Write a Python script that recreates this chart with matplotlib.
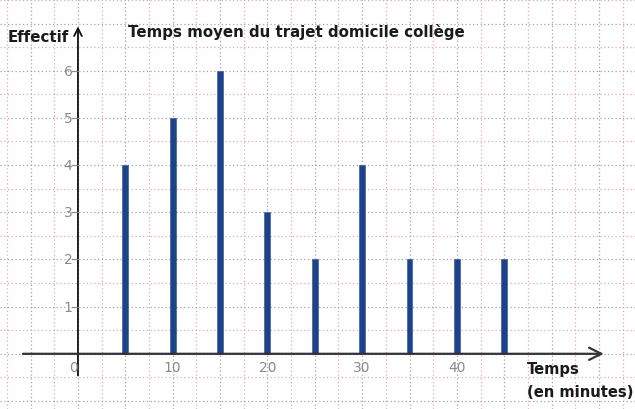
import matplotlib
matplotlib.use("Agg")
import matplotlib.pyplot as plt
import numpy as np

times = [5, 10, 15, 20, 25, 30, 35, 40, 45]
counts = [4, 5, 6, 3, 2, 4, 2, 2, 2]
x_tick_labels = ["0", "10", "20", "30", "40"]
x_tick_pos = [0, 10, 20, 30, 40]
y_ticks = [1, 2, 3, 4, 5, 6]
title = "Temps moyen du trajet domicile collège"

fig = plt.figure(figsize=(6.35, 4.10), dpi=100)
ax = fig.add_axes([0, 0, 1, 1])
xmin, xmax = -8.23, 58.8
ymin, ymax = -1.17, 7.52
ax.set_xlim(xmin, xmax)
ax.set_ylim(ymin, ymax)
ax.axis("off")

# grid
for i, gx in enumerate(np.arange(-7.5, 60, 2.5)):
    col = "#a8a0a8" if i % 2 else "#d8a8cc"
    ax.axvline(gx, color=col, ls=(0, (1, 2)), lw=0.9, zorder=0)
for i, gy in enumerate(np.arange(-1.0, 7.6, 0.5)):
    col = "#a8a0a8" if i % 2 == 0 else "#d8a8cc"
    ax.axhline(gy, color=col, ls=(0, (1, 2)), lw=0.9, zorder=0)

# bars
ax.bar(times, counts, width=0.62, color="#1e4289", edgecolor="#3a5fa0", lw=0.5, zorder=3)

# axes with arrows
ax.annotate("", xy=(0, 7.0), xytext=(0, -0.52),
            arrowprops=dict(arrowstyle="->", color="#111111", lw=1.3,
                            mutation_scale=14), zorder=4)
ax.annotate("", xy=(55.8, 0), xytext=(-6.1, 0),
            arrowprops=dict(arrowstyle="->", color="#333333", lw=1.6,
                            mutation_scale=22), zorder=4)

# tick labels
for p, lab in zip(x_tick_pos, x_tick_labels):
    xp = p - 0.5 if p == 0 else p
    ax.text(xp, -0.29, lab, ha="center", va="center", fontsize=10,
            color="#8a8a8a", zorder=5)
for v in y_ticks:
    ax.text(-1.05, v, str(v), ha="center", va="center", fontsize=10,
            color="#8a8a8a", zorder=5)
    ax.plot([-0.6, 0], [v, v], color="#8a8a8a", lw=0.8, zorder=4)

# texts
ax.text(-7.4, 6.72, "Effectif", ha="left", va="center", fontsize=10.8,
        fontweight="bold", color="#1a1a1a", zorder=5)
ax.text(5.3, 6.84, title, ha="left", va="center", fontsize=10.8,
        fontweight="bold", color="#1a1a1a", zorder=5)
ax.text(47.4, -0.32, "Temps", ha="left", va="center", fontsize=10.6,
        fontweight="bold", color="#1a1a1a", zorder=5)
ax.text(47.4, -0.79, "(en minutes)", ha="left", va="center", fontsize=10.6,
        fontweight="bold", color="#1a1a1a", zorder=5)

fig.savefig("out.png", dpi=100)
